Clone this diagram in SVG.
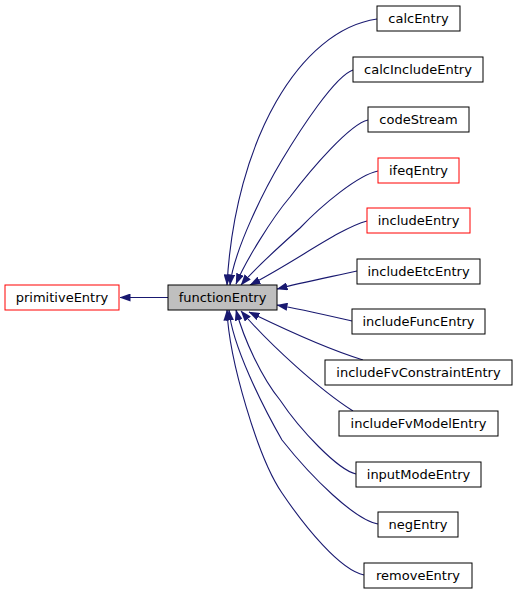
<svg xmlns="http://www.w3.org/2000/svg" width="517" height="595" viewBox="0 0 517 595">
<defs>
<style>
.n rect{fill:#ffffff;stroke:#000000;stroke-width:1}
.n.r rect{stroke:#ff0000}
.n.g rect{fill:#bfbfbf}
.n text{font-family:"DejaVu Sans","Noto Sans",sans-serif;font-size:13px;fill:#000000;text-anchor:middle}
.e path{fill:none;stroke:#191970;stroke-width:1.1;marker-end:url(#ah)}
</style>
<marker id="ah" viewBox="0 0 11 8" refX="10.5" refY="4" markerWidth="11" markerHeight="8" markerUnits="userSpaceOnUse" orient="auto">
<polygon points="0,0 11,4 0,8" fill="#191970"/>
</marker>
</defs>
<rect width="517" height="595" fill="#ffffff"/>
<g id="connectors" class="e">
<path d="M168,297.5 L120,297.5"/>
<path d="M377,19 C300,30 235,140 227,285"/>
<path d="M353,70 C335,76 300,130 282,160 C264,190 234,250 230,285"/>
<path d="M368,120 C350,124 312,168 290,197 C272,218 245,262 236,284"/>
<path d="M378,171 C358,175 322,205 300,228 C280,246 255,268 241,285"/>
<path d="M367,221 C340,228 295,262 250,285"/>
<path d="M357,271 C330,277 300,283 277,289"/>
<path d="M352,321 C330,316 300,309 277,305"/>
<path d="M363,360 C330,350 290,332 249,312"/>
<path d="M353,411 C320,390 270,345 241,311"/>
<path d="M356,474 C338,470 300,430 280,400 C262,378 244,340 236,310"/>
<path d="M378,524 C355,520 312,478 282,440 C262,405 232,345 229,310"/>
<path d="M364,575 C340,570 305,527 282,493 C258,458 229,360 227,310"/>
</g>
<g id="primitiveEntry" class="n r"><rect x="5" y="285" width="114" height="25"/><text x="62" y="302">primitiveEntry</text></g>
<g id="functionEntry" class="n g"><rect x="168" y="285" width="109" height="25"/><text x="222.5" y="302">functionEntry</text></g>
<g id="calcEntry" class="n"><rect x="377" y="6" width="83" height="25"/><text x="418.5" y="23">calcEntry</text></g>
<g id="calcIncludeEntry" class="n"><rect x="353" y="57" width="130" height="25"/><text x="418" y="74">calcIncludeEntry</text></g>
<g id="codeStream" class="n"><rect x="368" y="107" width="101" height="25"/><text x="418.5" y="124">codeStream</text></g>
<g id="ifeqEntry" class="n r"><rect x="378" y="158" width="81" height="25"/><text x="418.5" y="175">ifeqEntry</text></g>
<g id="includeEntry" class="n r"><rect x="367" y="208" width="103" height="25"/><text x="418.5" y="225">includeEntry</text></g>
<g id="includeEtcEntry" class="n"><rect x="357" y="259" width="123" height="25"/><text x="418.5" y="276">includeEtcEntry</text></g>
<g id="includeFuncEntry" class="n"><rect x="352" y="309" width="133" height="25"/><text x="418.5" y="326">includeFuncEntry</text></g>
<g id="includeFvConstraintEntry" class="n"><rect x="325" y="360" width="187" height="25"/><text x="418.5" y="377">includeFvConstraintEntry</text></g>
<g id="includeFvModelEntry" class="n"><rect x="339" y="411" width="159" height="25"/><text x="418.5" y="428">includeFvModelEntry</text></g>
<g id="inputModeEntry" class="n"><rect x="356" y="462" width="125" height="25"/><text x="418.5" y="479">inputModeEntry</text></g>
<g id="negEntry" class="n"><rect x="378" y="512" width="80" height="25"/><text x="418" y="529">negEntry</text></g>
<g id="removeEntry" class="n"><rect x="364" y="563" width="108" height="25"/><text x="418" y="580">removeEntry</text></g>
</svg>
